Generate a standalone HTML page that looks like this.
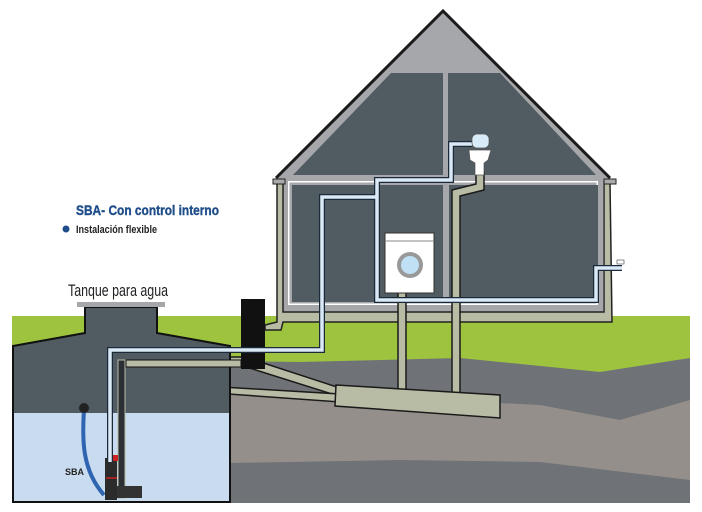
<!DOCTYPE html>
<html><head><meta charset="utf-8"><style>
html,body{margin:0;padding:0;background:#fff;width:702px;height:512px;overflow:hidden}
</style></head><body>
<svg width="702" height="512" viewBox="0 0 702 512" xmlns="http://www.w3.org/2000/svg" font-family="Liberation Sans, sans-serif">
<!-- ground -->
<rect x="12" y="316" width="678" height="60" fill="#9dc33f"/>
<path d="M12 362 L150 360 L300 362 L460 358 L600 372 L690 358 L690 503 L12 503 Z" fill="#6f7276"/>
<path d="M230 390 L400 398 L540 405 L620 420 L690 400 L690 480 L540 462 L400 460 L230 463 Z" fill="#958f8b"/>
<!-- house -->
<polygon points="443,12 277,178 283,182 283,313 603,313 603,182 609,178" fill="#a6a7aa"/>
<polyline points="276,178 443,11 610,178" fill="none" stroke="#1b1b1b" stroke-width="3"/>
<rect x="288" y="181" width="310" height="124" fill="#fff"/>
<rect x="289.5" y="182.5" width="307" height="121" fill="#a6a7aa"/>
<polygon points="293,175 391,73 443,73 443,175" fill="#515b62"/>
<polygon points="448,73 500,73 596,175 448,175" fill="#515b62"/>
<rect x="292" y="185" width="151" height="117" fill="#515b62"/>
<rect x="449" y="185" width="149" height="117" fill="#515b62"/>
<!-- house base / gutters -->
<path d="M277 182 L283 182 L283 312 L604 312 L604 182 L610 182 L612 322 L283 322 L281 330 L265 330 L265 325 L277 322 Z" fill="#b8bca5" stroke="#222" stroke-width="1.5"/>
<rect x="273" y="179" width="12" height="5" fill="#aaa" stroke="#222"/>
<rect x="604" y="179" width="12" height="5" fill="#aaa" stroke="#222"/>
<!-- drain pipes -->
<g fill="#b8bca5" stroke="#1a1a1a" stroke-width="1.5">
<rect x="398" y="290" width="8" height="100"/>
<path d="M476 172 L484 172 L484 190 L460 196 L460 398 L452 398 L452 190 L476 184 Z"/>
<polygon points="120,357 245,357 340,388 335,395 240,365 120,365"/>
<polygon points="205,386 200,392 340,402 340,394"/>
<path d="M200 388 C190 386 186 392 192 396 C196 398 200 394 204 393" fill="none"/>
<polygon points="336,385 500,395 500,418 335,406"/>
</g>
<!-- black box -->
<rect x="241" y="299" width="24" height="70" fill="#111"/>
<!-- tank -->
<path d="M13 346 L85 333 L85 307 L157 307 L157 333 L230 346 L230 502 L13 502 Z" fill="#515b62" stroke="#111" stroke-width="2"/>
<rect x="14" y="413" width="215" height="88" fill="#c9dcef"/>
<rect x="77" y="302" width="88" height="5" fill="#a6a7aa"/>
<rect x="118" y="360" width="7" height="138" fill="#2c3035" stroke="#b8bca5" stroke-width="1"/>
<rect x="126" y="360" width="115" height="7" fill="#b8bca5" stroke="#111"/>
<!-- pump & hose -->
<path d="M84 410 C82 440 82 470 104 495" fill="none" stroke="#2e64b0" stroke-width="4"/>
<circle cx="84" cy="408" r="5" fill="#222"/>
<rect x="105" y="458" width="12" height="42" fill="#2b2b2b"/>
<rect x="112" y="455" width="6" height="6" fill="#c22"/>
<rect x="117" y="486" width="10" height="12" fill="#333"/>
<rect x="127" y="486" width="15" height="12" fill="#333"/>
<line x1="106" y1="478" x2="117" y2="478" stroke="#c22" stroke-width="1.5"/>
<!-- water pipes -->
<g fill="none" stroke-linejoin="miter">
<path d="M110 462 L110 350 L322 350 L322 197 L377 197 L377 180 L451 180 L451 144 L472 144 M377 197 L377 300 L596 300 L596 268 L622 268" stroke="#1a2a3a" stroke-width="6"/>
<path d="M110 462 L110 350 L322 350 L322 197 L377 197 L377 180 L451 180 L451 144 L472 144 M377 197 L377 300 L596 300 L596 268 L622 268" stroke="#dbe9f6" stroke-width="3.5"/>
</g>
<path d="M617 262 h8 v10" fill="none" stroke="#fff" stroke-width="2"/>
<rect x="617" y="260" width="7" height="4" fill="#fff" stroke="#444" stroke-width=".6"/>
<!-- washer -->
<rect x="385" y="233" width="49" height="60" fill="#fff" stroke="#333"/>
<line x1="385" y1="241" x2="434" y2="241" stroke="#888"/>
<circle cx="410" cy="265" r="13" fill="#999"/>
<circle cx="410" cy="265" r="9" fill="#bfe0f5"/>
<!-- toilet -->
<rect x="472" y="134" width="17" height="14" rx="5" fill="#d7ecf8" stroke="#555" stroke-width=".7"/>
<path d="M469 150 L491 150 L488 160 L484 163 L484 175 L475 175 L475 163 L470 160 Z" fill="#fff" stroke="#555" stroke-width=".7"/>
<!-- text -->
<text x="76" y="215" font-size="14" font-weight="bold" fill="#1f4e8a" textLength="143" lengthAdjust="spacingAndGlyphs" stroke="#1f4e8a" stroke-width=".4">SBA- Con control interno</text>
<circle cx="66" cy="229" r="3.5" fill="#1f4e8a"/>
<text x="76" y="233" font-size="11" font-weight="bold" fill="#222" textLength="81" lengthAdjust="spacingAndGlyphs">Instalación flexible</text>
<text x="68" y="296" font-size="17" fill="#222" textLength="100" lengthAdjust="spacingAndGlyphs">Tanque para agua</text>
<text x="65" y="475" font-size="9" font-weight="bold" fill="#222">SBA</text>
</svg>
</body></html>
